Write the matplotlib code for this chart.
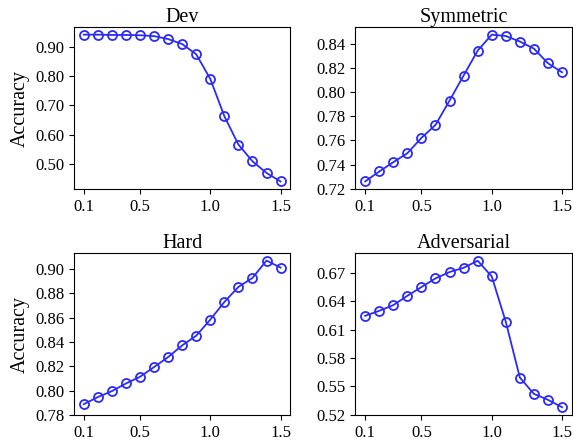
import matplotlib
matplotlib.use('Agg')
import matplotlib.pyplot as plt
from matplotlib.ticker import FormatStrFormatter

plt.rcParams['font.family'] = ['Liberation Serif', 'DejaVu Serif']

# ── data ──
x = [0.1, 0.2, 0.3, 0.4, 0.5, 0.6, 0.7, 0.8, 0.9, 1.0, 1.1, 1.2, 1.3, 1.4, 1.5]

dev = [0.941, 0.941, 0.940, 0.940, 0.939, 0.936, 0.926, 0.909, 0.874, 0.790,
       0.663, 0.566, 0.509, 0.469, 0.440]
symmetric = [0.7261, 0.7343, 0.7420, 0.7494, 0.7621, 0.7728, 0.7929, 0.8136,
             0.8342, 0.8474, 0.8463, 0.8417, 0.8359, 0.8238, 0.8163]
hard = [0.7888, 0.7946, 0.7995, 0.8058, 0.8113, 0.8193, 0.8275, 0.8371,
        0.8451, 0.8583, 0.8728, 0.8852, 0.8926, 0.9069, 0.9011]
adversarial = [0.6248, 0.6301, 0.6361, 0.6460, 0.6552, 0.6644, 0.6711, 0.6756,
               0.6831, 0.6665, 0.6185, 0.5595, 0.5422, 0.5359, 0.5281]

titles = ['Dev', 'Symmetric', 'Hard', 'Adversarial']
series = [dev, symmetric, hard, adversarial]
yticks = [
    [0.50, 0.60, 0.70, 0.80, 0.90],
    [0.72, 0.74, 0.76, 0.78, 0.80, 0.82, 0.84],
    [0.78, 0.80, 0.82, 0.84, 0.86, 0.88, 0.90],
    [0.52, 0.55, 0.58, 0.61, 0.64, 0.67],
]
xticks = [0.1, 0.5, 1.0, 1.5]

fig, axes = plt.subplots(2, 2, figsize=(5.73, 4.48), dpi=100)

for i, ax in enumerate(axes.flat):
    ax.plot(x, series[i], color='#2b2bf5', marker='o', markersize=6.5,
            markerfacecolor='none', markeredgewidth=1.3, linewidth=1.3)
    ax.set_title(titles[i], fontsize=14.5, pad=4)
    ax.set_xticks(xticks)
    ax.set_xticklabels(['0.1', '0.5', '1.0', '1.5'])
    ax.set_yticks(yticks[i])
    ax.yaxis.set_major_formatter(FormatStrFormatter('%.2f'))
    ax.tick_params(labelsize=12)
    if i % 2 == 0:
        ax.set_ylabel('Accuracy', fontsize=14.5)

plt.subplots_adjust(left=0.129, right=0.998, top=0.939, bottom=0.074,
                    wspace=0.30, hspace=0.40)
plt.savefig('out.png', dpi=100)
